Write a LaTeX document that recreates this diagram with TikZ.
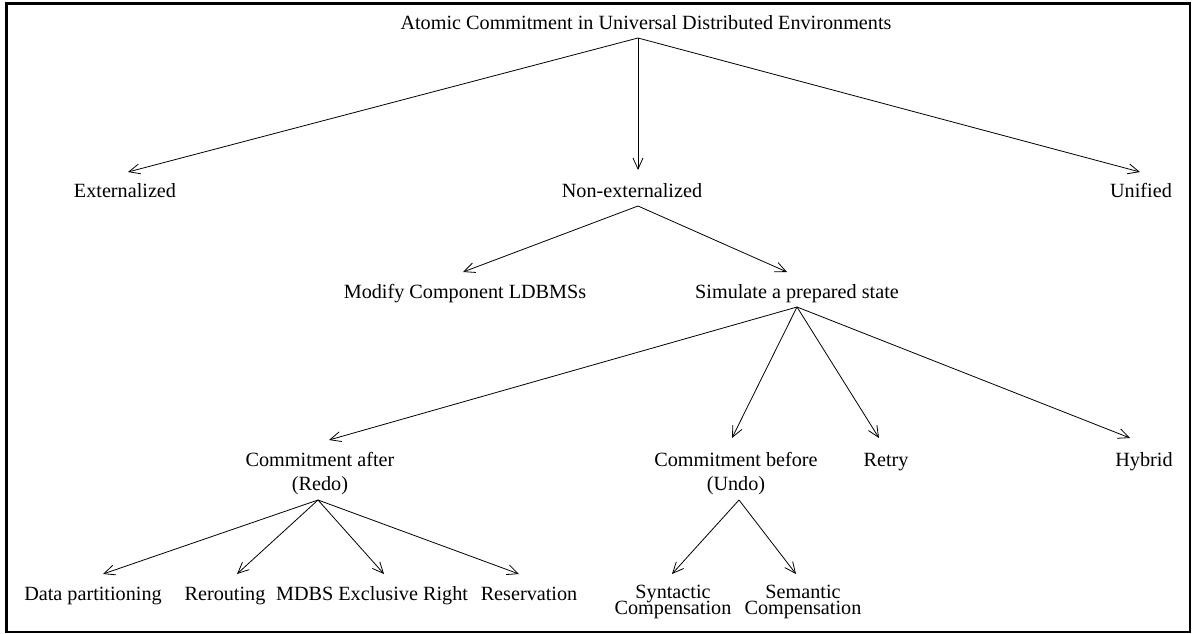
\documentclass[tikz,border=0pt]{standalone}
\usepackage{fontspec}
\setmainfont{Liberation Serif}
\usetikzlibrary{arrows.meta,calc}
% two centred lines whose baseline is the first line's baseline
\newcommand\twolines[3]{\begin{tabular}[t]{@{}c@{}}#1\\[#3]#2\end{tabular}}
\begin{document}
\begin{tikzpicture}[x=1pt,y=-1pt,
  lbl/.style={anchor=base,inner sep=0pt,font=\fontsize{20.2}{24.2}\selectfont},
  arr/.style={-{Straight Barb[length=11pt,width=10pt]},line width=0.8pt}]
\useasboundingbox (0,0) rectangle (1192,634);

% frame
\draw[line width=3pt] (6.5,633) -- (6.5,3.5) -- (1191,3.5);
\draw[line width=2pt] (1190,3.5) -- (1190,632) -- (5,632);

% labels
\node[lbl] (ttl)    at (646,30)  {Atomic Commitment in Universal Distributed Environments};
\node[lbl] (ext)    at (125,197) {Externalized};
\node[lbl] (nonext) at (632,197) {Non-externalized};
\node[lbl] (uni)    at (1141,197) {Unified};
\node[lbl] (mod)    at (465,298) {Modify Component LDBMSs};
\node[lbl] (sim)    at (797,298) {Simulate a prepared state};
\node[lbl] (after)  at (320,466) {\twolines{Commitment after}{(Redo)}{0pt}};
\node[lbl] (before) at (736,466) {\twolines{Commitment before}{(Undo)}{0pt}};
\node[lbl] (retry)  at (886,466) {Retry};
\node[lbl] (hybrid) at (1144,466) {Hybrid};
\node[lbl] (datap)  at (93,600)  {Data partitioning};
\node[lbl] (rerout) at (225,600) {Rerouting};
\node[lbl] (mdbs)   at (372,600) {MDBS Exclusive Right};
\node[lbl] (reserv) at (529,600) {Reservation};
\node[lbl] (syn)    at (673,598) {\twolines{Syntactic}{Compensation}{-8.2pt}};
\node[lbl] (sem)    at (803,598) {\twolines{Semantic}{Compensation}{-8.2pt}};

% connectors
\draw[arr] ($(ttl.base)+(-8,8)$) -- ($(ext.base)+(3,-25)$);
\draw[arr] ($(ttl.base)+(-8,8)$) -- ($(nonext.base)+(6,-27)$);
\draw[arr] ($(ttl.base)+(-8,8)$) -- ($(uni.base)+(-1,-25)$);

\draw[arr] ($(nonext.base)+(6,9)$) -- ($(mod.base)+(-2,-26)$);
\draw[arr] ($(nonext.base)+(6,9)$) -- ($(sim.base)+(-10,-26)$);

\draw[arr] ($(sim.base)+(0,9)$) -- ($(after.base)+(9,-26)$);
\draw[arr] ($(sim.base)+(0,9)$) -- ($(before.base)+(-4,-28)$);
\draw[arr] ($(sim.base)+(0,9)$) -- ($(retry.base)+(-7,-28)$);
\draw[arr] ($(sim.base)+(0,9)$) -- ($(hybrid.base)+(-14,-28)$);

\draw[arr] ($(after.base)+(-2,34)$) -- ($(datap.base)+(10,-26)$);
\draw[arr] ($(after.base)+(-2,34)$) -- ($(rerout.base)+(12,-26)$);
\draw[arr] ($(after.base)+(-2,34)$) -- ($(mdbs.base)+(12,-26)$);
\draw[arr] ($(after.base)+(-2,34)$) -- ($(reserv.base)+(-10,-26)$);

\draw[arr] ($(before.base)+(3,34)$) -- ($(syn.base)+(-1,-24)$);
\draw[arr] ($(before.base)+(3,34)$) -- ($(sem.base)+(-7,-24)$);
\end{tikzpicture}
\end{document}
